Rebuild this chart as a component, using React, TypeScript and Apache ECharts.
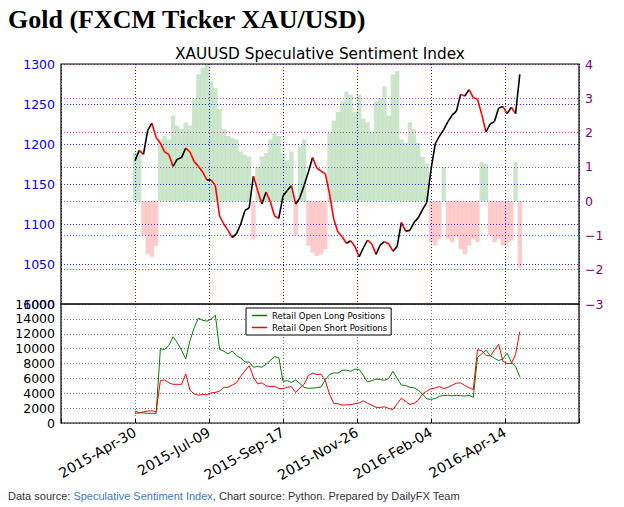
import React, { useEffect, useRef } from 'react';
import * as echarts from 'echarts';

// Axis origin: 2015-02-19 (left edge of the plots); samples every 4 days from 2015-04-30
const FIRST_SAMPLE_DAY = 70;
const STEP_DAYS = 4;
const AXIS_MAX_DAY = 490;

const tickDays = [70, 140, 210, 280, 350, 420];
const tickLabels = ['2015-Apr-30', '2015-Jul-09', '2015-Sep-17', '2015-Nov-26', '2016-Feb-04', '2016-Apr-14'];

const price = [
  1179, 1192, 1187, 1217, 1226, 1208, 1201, 1190, 1187, 1172,
  1181, 1183, 1195, 1190, 1178, 1172, 1165, 1155, 1155, 1148,
  1110, 1100, 1092, 1083, 1088, 1100, 1117, 1120, 1160, 1142,
  1125, 1140, 1128, 1110, 1107, 1135, 1142, 1148, 1125, 1133,
  1148, 1165, 1183, 1170, 1166, 1163, 1138, 1106, 1090, 1084,
  1076, 1079, 1072, 1059, 1070, 1080, 1075, 1062, 1074, 1078,
  1075, 1066, 1072, 1102, 1091, 1092, 1102, 1108, 1118, 1127,
  1168, 1200, 1210, 1218, 1228, 1236, 1241, 1262, 1260, 1268,
  1258, 1256, 1237, 1215, 1225, 1228, 1245, 1247, 1238, 1246,
  1238, 1287,
];

const sentiment = [
  1.4, 1.5, -1.0, -1.55, -1.62, -1.3, 1.8, 1.9, 1.8, 2.5,
  2.2, 2.1, 2.3, 2.2, 3.0, 3.7, 3.9, 4.0, 3.5, 3.3,
  2.7, 2.1, 1.9, 1.85, 1.8, 1.45, 1.35, 1.3, -1.1, 1.0,
  1.3, 1.4, 1.8, 2.0, 1.9, 1.4, 1.2, 1.45, -1.0, 1.6,
  1.8, -1.3, -1.5, -1.6, -1.55, -1.4, 2.0, 2.35, 2.6, 2.9,
  3.2, 3.1, 2.6, 3.1, 2.4, 2.3, 2.0, 2.9, 3.0, 3.35,
  2.5, 3.7, 3.8, 1.8, 1.7, 2.3, 2.1, 1.7, 1.3, 1.1,
  -1.2, -1.3, -1.1, 1.0, -1.1, -1.2, -1.05, -1.4, -1.55, -1.3,
  -1.1, -1.2, 1.15, 1.1, -1.0, -1.2, -1.1, -1.3, -1.25, -1.15,
  1.15, -1.95,
];

const longPositions = [
  1600, 1400, 1350, 1300, 1300, 1300, 9960, 9900, 10400, 11600,
  10800, 9800, 8600, 11070, 12800, 14100, 13800, 13700, 13950, 14500,
  9900, 9650, 9300, 9700, 9050, 8750, 8200, 8200, 7500, 7600,
  7500, 7900, 8400, 8900, 8800, 5600, 5700, 5450, 5800, 5300,
  4800, 4660, 4700, 4750, 4840, 5800, 6500, 6750, 6700, 7100,
  7100, 6950, 7240, 7200, 6400, 5510, 5700, 5900, 5850, 5750,
  6000, 6950, 6000, 5100, 5050, 4800, 4730, 4400, 3900, 3250,
  3180, 3290, 3600, 3700, 3730, 3650, 3720, 3680, 3620, 3700,
  3450, 8800, 9290, 9800, 9050, 8700, 8400, 8600, 9400, 8200,
  7600, 6200,
];

const shortPositions = [
  1300, 1350, 1500, 1600, 1650, 1500, 5700, 5800, 5400, 5200,
  5200, 5200, 6600, 4400, 3900, 3730, 3850, 3780, 4050, 4100,
  4300, 4800, 4800, 5100, 5400, 6300, 7000, 7700, 6200, 5250,
  5400, 5000, 4900, 4950, 4650, 4600, 4800, 4900, 4100, 4700,
  5200, 6400, 6700, 6500, 6550, 5700, 3900, 2620, 2600, 2400,
  2450, 2450, 2600, 2700, 3000, 2650, 2400, 2100, 2100, 2180,
  1960, 1800, 2600, 3350, 2900, 2500, 2650, 3070, 3900, 4300,
  4600, 4700, 4900, 4620, 4800, 5100, 5350, 5400, 5050, 4750,
  4500, 9850, 9730, 9100, 9000, 9800, 10600, 8300, 8000, 8000,
  9200, 12300,
];

const LONG_NAME = 'Retail Open Long Positions';
const SHORT_NAME = 'Retail Open Short Positions';

export default function App() {
  const ref = useRef<HTMLDivElement>(null);

  useEffect(() => {
    if (!ref.current) return;
    const chart = echarts.init(ref.current, undefined, { renderer: 'svg' });
    const days = price.map((_, i) => FIRST_SAMPLE_DAY + i * STEP_DAYS);

    const xFormatter = (v: number) => {
      const k = tickDays.indexOf(Math.round(v));
      return k >= 0 ? tickLabels[k] : '';
    };
    const plain = (v: number) => String(v);
    const dotted = (color: string) => ({ show: true, lineStyle: { color, type: [1, 2] as any, width: 1 } });
    const font = 'DejaVu Sans';

    const option: any = {
      animation: false,
      textStyle: { fontFamily: font },
      grid: [
        { left: 61, top: 64, width: 518, height: 240 },
        { left: 61, top: 304, width: 518, height: 119 },
      ],
      xAxis: [
        {
          gridIndex: 0, type: 'value', min: 0, max: AXIS_MAX_DAY, interval: 70,
          axisLabel: { show: false }, axisLine: { show: false }, axisTick: { show: false },
          splitLine: dotted('#2020ff'),
        },
        {
          gridIndex: 1, type: 'value', min: 0, max: AXIS_MAX_DAY, interval: 70,
          axisLabel: { rotate: 30, formatter: xFormatter, fontSize: 14, color: '#000', margin: 8, fontFamily: font },
          axisLine: { show: false },
          axisTick: { show: true, inside: true, length: 4, lineStyle: { color: '#000' } },
          splitLine: dotted('#777'),
        },
      ],
      yAxis: [
        {
          gridIndex: 0, type: 'value', min: 1000, max: 1300, interval: 50,
          axisLabel: { color: '#0000ff', fontSize: 12.5, margin: 6, fontFamily: font, formatter: plain },
          axisLine: { show: false }, axisTick: { show: false },
          splitLine: dotted('#3030ff'),
        },
        {
          gridIndex: 0, type: 'value', position: 'right', min: -3, max: 4, interval: 1,
          axisLabel: {
            color: '#800080', fontSize: 12.5, margin: 6, fontFamily: font,
            formatter: (v: number) => (v < 0 ? '\u2212' + Math.abs(v) : String(v)),
          },
          axisLine: { show: false }, axisTick: { show: false },
          splitLine: dotted('#bf40bf'),
        },
        {
          gridIndex: 1, type: 'value', min: 0, max: 16000, interval: 2000,
          axisLabel: { color: '#000', fontSize: 12.5, margin: 6, fontFamily: font, formatter: plain },
          axisLine: { show: false }, axisTick: { show: false },
          splitLine: dotted('#777'),
        },
      ],
      legend: {
        data: [LONG_NAME, SHORT_NAME],
        orient: 'vertical', left: 246, top: 308,
        padding: [3, 4, 3, 6], itemGap: 3, itemWidth: 15, itemHeight: 1.5,
        icon: 'rect', backgroundColor: '#fff', borderColor: '#000', borderWidth: 1, borderRadius: 0,
        textStyle: { fontSize: 8.5, fontFamily: font, color: '#000' },
      },
      series: [
        {
          type: 'bar', xAxisIndex: 0, yAxisIndex: 1, barWidth: 4.4, z: 2,
          data: days.map((d, i) => [d, sentiment[i]]),
          itemStyle: {
            color: (p: any) => (p.value[1] >= 0 ? 'rgba(0,128,0,0.2)' : 'rgba(255,0,0,0.2)'),
          },
        },
        {
          type: 'custom', xAxisIndex: 0, yAxisIndex: 0, z: 5,
          data: days.map((d, i) => [d, price[i], i > 0 ? days[i - 1] : d, i > 0 ? price[i - 1] : price[i]]),
          encode: { x: 0, y: 1 },
          renderItem: (params: any, api: any) => {
            const p1 = api.coord([api.value(2), api.value(3)]);
            const p2 = api.coord([api.value(0), api.value(1)]);
            const up = api.value(1) >= api.value(3);
            return {
              type: 'line',
              shape: { x1: p1[0], y1: p1[1], x2: p2[0], y2: p2[1] },
              style: { stroke: up ? '#000' : '#ff0000', lineWidth: 1.6 },
            };
          },
        },
        {
          name: LONG_NAME, type: 'line', xAxisIndex: 1, yAxisIndex: 2, showSymbol: false, z: 4,
          data: days.map((d, i) => [d, longPositions[i]]),
          lineStyle: { color: '#008000', width: 1 }, itemStyle: { color: '#008000' },
        },
        {
          name: SHORT_NAME, type: 'line', xAxisIndex: 1, yAxisIndex: 2, showSymbol: false, z: 4,
          data: days.map((d, i) => [d, shortPositions[i]]),
          lineStyle: { color: '#ff0000', width: 1 }, itemStyle: { color: '#ff0000' },
        },
      ],
      graphic: [
        {
          type: 'rect', z: 100, silent: true,
          shape: { x: 61, y: 64, width: 518, height: 240 },
          style: { fill: 'none', stroke: '#000', lineWidth: 1.2 },
        },
        {
          type: 'rect', z: 100, silent: true,
          shape: { x: 61, y: 304, width: 518, height: 119 },
          style: { fill: 'none', stroke: '#000', lineWidth: 1.2 },
        },
        {
          type: 'text', left: 8, top: 6, z: 100,
          style: { text: 'Gold (FXCM Ticker XAU/USD)', font: 'bold 26px "Liberation Serif"', fill: '#000' },
        },
        {
          type: 'text', x: 320, y: 54, z: 100,
          style: {
            text: 'XAUUSD Speculative Sentiment Index', fontFamily: font, fontSize: 15.3,
            fill: '#000', textAlign: 'center', textVerticalAlign: 'middle',
          },
        },
        {
          type: 'text', x: 8, y: 496, z: 100,
          style: {
            text: 'Data source: {a|Speculative Sentiment Index}, Chart source: Python. Prepared by DailyFX Team',
            fontFamily: 'Liberation Sans', fontSize: 11, fill: '#333', textVerticalAlign: 'middle',
            rich: { a: { fill: '#3a7bbf', fontFamily: 'Liberation Sans', fontSize: 11 } },
          },
        },
      ],
    };

    chart.setOption(option);
    return () => chart.dispose();
  }, []);

  return (
    <div
      ref={ref}
      style={{ position: 'fixed', left: 0, top: 0, width: 624, height: 507, background: '#fff' }}
    />
  );
}
